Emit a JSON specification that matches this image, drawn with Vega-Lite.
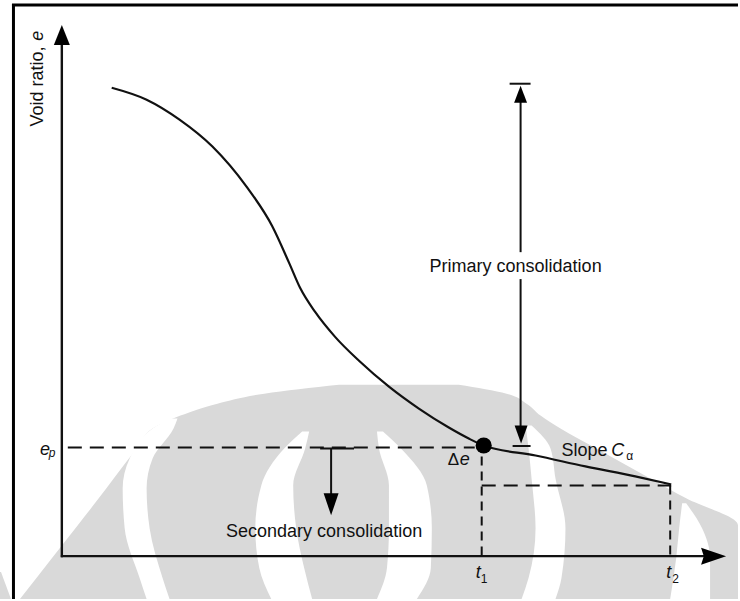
{
  "$schema": "https://vega.github.io/schema/vega-lite/v6.json",
  "width": 740,
  "height": 601,
  "autosize": {"type": "fit", "contains": "padding"},
  "padding": 0,
  "background": "white",
  "config": {"view": {"stroke": null}},
  "datasets": {
    "shadeGrey": [
      {"part": "main", "y": 386, "x": 340, "x2": 460},
      {"part": "main", "y": 395, "x": 265, "x2": 508},
      {"part": "main", "y": 405, "x": 218, "x2": 528},
      {"part": "main", "y": 417, "x": 181, "x2": 542},
      {"part": "main", "y": 430, "x": 153, "x2": 562},
      {"part": "main", "y": 450, "x": 137, "x2": 598},
      {"part": "main", "y": 480, "x": 114, "x2": 652},
      {"part": "main", "y": 500, "x": 99, "x2": 688},
      {"part": "main", "y": 527, "x": 78, "x2": 740},
      {"part": "main", "y": 560, "x": 52, "x2": 740},
      {"part": "main", "y": 601, "x": 20, "x2": 740},
      {"part": "edge", "y": 574, "x": 0, "x2": 1},
      {"part": "edge", "y": 601, "x": 0, "x2": 11}
    ],
    "shadeWhite": [
      {"part": "w1", "y": 420, "x": 170, "x2": 178},
      {"part": "w1", "y": 430, "x": 153, "x2": 174},
      {"part": "w1", "y": 460, "x": 130, "x2": 153},
      {"part": "w1", "y": 490, "x": 123, "x2": 147},
      {"part": "w1", "y": 530, "x": 125, "x2": 150},
      {"part": "w1", "y": 580, "x": 140, "x2": 163},
      {"part": "w1", "y": 601, "x": 147, "x2": 170},
      {"part": "w2", "y": 433, "x": 303, "x2": 310},
      {"part": "w2", "y": 450, "x": 285, "x2": 306},
      {"part": "w2", "y": 487, "x": 262, "x2": 294},
      {"part": "w2", "y": 530, "x": 256, "x2": 297},
      {"part": "w2", "y": 570, "x": 260, "x2": 305},
      {"part": "w2", "y": 601, "x": 272, "x2": 313},
      {"part": "w3", "y": 433, "x": 378, "x2": 384},
      {"part": "w3", "y": 450, "x": 380, "x2": 402},
      {"part": "w3", "y": 487, "x": 390, "x2": 428},
      {"part": "w3", "y": 530, "x": 390, "x2": 433},
      {"part": "w3", "y": 570, "x": 388, "x2": 432},
      {"part": "w3", "y": 601, "x": 378, "x2": 418},
      {"part": "w4", "y": 427, "x": 527, "x2": 533},
      {"part": "w4", "y": 450, "x": 530, "x2": 552},
      {"part": "w4", "y": 480, "x": 533, "x2": 557},
      {"part": "w4", "y": 530, "x": 537, "x2": 567},
      {"part": "w4", "y": 580, "x": 530, "x2": 563},
      {"part": "w4", "y": 601, "x": 523, "x2": 557},
      {"part": "w5", "y": 505, "x": 684, "x2": 688},
      {"part": "w5", "y": 530, "x": 681, "x2": 704},
      {"part": "w5", "y": 560, "x": 678, "x2": 712},
      {"part": "w5", "y": 601, "x": 672, "x2": 712}
    ],
    "frame": [
      {"x": 12, "x2": 740, "y": 5, "y2": 5},
      {"x": 13.5, "x2": 13.5, "y": 4, "y2": 601}
    ],
    "axes": [
      {"x": 62, "x2": 62, "y": 44, "y2": 559},
      {"x": 61, "x2": 706, "y": 558, "y2": 558}
    ],
    "arrowLines": [
      {"x": 511, "x2": 532, "y": 84, "y2": 84},
      {"x": 522, "x2": 522, "y": 100, "y2": 253},
      {"x": 522, "x2": 522, "y": 280, "y2": 430},
      {"x": 514, "x2": 532, "y": 447.5, "y2": 447.5},
      {"x": 321, "x2": 355, "y": 450, "y2": 450},
      {"x": 332, "x2": 332, "y": 450, "y2": 497}
    ],
    "dashH": [
      {"x": 68, "x2": 476, "y": 449, "y2": 449},
      {"x": 483, "x2": 673, "y": 487, "y2": 487}
    ],
    "dashV": [
      {"x": 483, "x2": 483, "y": 458, "y2": 558},
      {"x": 672, "x2": 672, "y": 487, "y2": 558}
    ],
    "curve": [
      {"x": 112, "y": 88}, {"x": 147, "y": 100}, {"x": 180, "y": 120},
      {"x": 213, "y": 147}, {"x": 247, "y": 187}, {"x": 273, "y": 227},
      {"x": 290, "y": 264}, {"x": 301, "y": 289}, {"x": 316, "y": 313},
      {"x": 336, "y": 338}, {"x": 360, "y": 362}, {"x": 390, "y": 388},
      {"x": 420, "y": 410}, {"x": 450, "y": 429}, {"x": 470, "y": 440},
      {"x": 485, "y": 447}, {"x": 537, "y": 457}, {"x": 587, "y": 468},
      {"x": 637, "y": 478}, {"x": 673, "y": 486}
    ],
    "endOfPrimary": [{"x": 485, "y": 447}],
    "arrowYAxis": [{"x": 62, "y": 35}],
    "arrowXAxis": [{"x": 715.5, "y": 558}],
    "arrowPrimaryUp": [{"x": 522, "y": 94.5}],
    "arrowPrimaryDown": [{"x": 522.5, "y": 436}],
    "arrowSecondary": [{"x": 332, "y": 506}],
    "labelsCentered": [
      {"x": 517, "y": 273, "label": "Primary consolidation"},
      {"x": 325, "y": 539, "label": "Secondary consolidation"}
    ],
    "labelsLeft": [
      {"x": 563, "y": 458, "label": "Slope"}
    ],
    "delta": [
      {"x": 449, "y": 467, "label": "Δ"}
    ],
    "symbols": [
      {"x": 613, "y": 458, "label": "C"},
      {"x": 477, "y": 580, "label": "t"},
      {"x": 668, "y": 580, "label": "t"},
      {"x": 40, "y": 457, "label": "e"},
      {"x": 461, "y": 467, "label": "e"}
    ],
    "subscripts": [
      {"x": 628, "y": 462, "label": "α"},
      {"x": 482, "y": 585, "label": "1"},
      {"x": 674, "y": 585, "label": "2"}
    ],
    "subscriptsItalic": [
      {"x": 49, "y": 459, "label": "p"}
    ],
    "yTitle": [
      {"x": 43, "y": 127, "label": "Void ratio,"}
    ],
    "yTitleSymbol": [
      {"x": 43, "y": 41, "label": "e"}
    ]
  },
  "encoding": {
    "x": {"field": "x", "type": "quantitative", "stack": null, "scale": {"domain": [0, 740], "nice": false, "zero": false}, "axis": null},
    "y": {"field": "y", "type": "quantitative", "scale": {"domain": [0, 601], "reverse": true, "nice": false, "zero": false}, "axis": null}
  },
  "layer": [
    {
      "data": {"name": "shadeGrey"},
      "mark": {"type": "area", "orient": "horizontal", "interpolate": "monotone", "color": "#d9d9d9", "opacity": 1},
      "encoding": {"x2": {"field": "x2"}, "detail": {"field": "part", "type": "nominal"}}
    },
    {
      "data": {"name": "shadeWhite"},
      "mark": {"type": "area", "orient": "horizontal", "interpolate": "monotone", "color": "#ffffff", "opacity": 1},
      "encoding": {"x2": {"field": "x2"}, "detail": {"field": "part", "type": "nominal"}}
    },
    {
      "data": {"name": "frame"},
      "mark": {"type": "rule", "color": "#000000", "strokeWidth": 3},
      "encoding": {"x2": {"field": "x2"}, "y2": {"field": "y2"}}
    },
    {
      "data": {"name": "axes"},
      "mark": {"type": "rule", "color": "#111111", "strokeWidth": 2.4},
      "encoding": {"x2": {"field": "x2"}, "y2": {"field": "y2"}}
    },
    {
      "data": {"name": "arrowLines"},
      "mark": {"type": "rule", "color": "#111111", "strokeWidth": 2},
      "encoding": {"x2": {"field": "x2"}, "y2": {"field": "y2"}}
    },
    {
      "data": {"name": "dashH"},
      "mark": {"type": "rule", "color": "#111111", "strokeWidth": 2, "strokeDash": [14, 8]},
      "encoding": {"x2": {"field": "x2"}, "y2": {"field": "y2"}}
    },
    {
      "data": {"name": "dashV"},
      "mark": {"type": "rule", "color": "#111111", "strokeWidth": 2, "strokeDash": [9, 6]},
      "encoding": {"x2": {"field": "x2"}, "y2": {"field": "y2"}}
    },
    {
      "data": {"name": "curve"},
      "mark": {"type": "line", "color": "#111111", "strokeWidth": 2.2, "interpolate": "monotone"},
      "encoding": {}
    },
    {
      "data": {"name": "endOfPrimary"},
      "mark": {"type": "point", "shape": "circle", "filled": true, "color": "#000000", "opacity": 1, "size": 260}
    },
    {
      "data": {"name": "arrowYAxis"},
      "mark": {"type": "point", "shape": "M0,-1L0.8,1L-0.8,1Z", "filled": true, "color": "#000000", "opacity": 1, "size": 400, "strokeWidth": 0}
    },
    {
      "data": {"name": "arrowXAxis"},
      "mark": {"type": "point", "shape": "M1,0L-1,-0.68L-0.78,0L-1,0.68Z", "filled": true, "color": "#000000", "opacity": 1, "size": 625, "strokeWidth": 0}
    },
    {
      "data": {"name": "arrowPrimaryUp"},
      "mark": {"type": "point", "shape": "M0,-1L0.76,1L-0.76,1Z", "filled": true, "color": "#000000", "opacity": 1, "size": 289, "strokeWidth": 0}
    },
    {
      "data": {"name": "arrowPrimaryDown"},
      "mark": {"type": "point", "shape": "M0,1L0.72,-1L-0.72,-1Z", "filled": true, "color": "#000000", "opacity": 1, "size": 324, "strokeWidth": 0}
    },
    {
      "data": {"name": "arrowSecondary"},
      "mark": {"type": "point", "shape": "M0,1L0.68,-1L-0.68,-1Z", "filled": true, "color": "#000000", "opacity": 1, "size": 484, "strokeWidth": 0}
    },
    {
      "data": {"name": "labelsCentered"},
      "mark": {"type": "text", "font": "Liberation Sans", "fontSize": 18, "color": "#111111", "align": "center", "baseline": "alphabetic"},
      "encoding": {"text": {"field": "label"}}
    },
    {
      "data": {"name": "labelsLeft"},
      "mark": {"type": "text", "font": "Liberation Sans", "fontSize": 18, "color": "#111111", "align": "left", "baseline": "alphabetic"},
      "encoding": {"text": {"field": "label"}}
    },
    {
      "data": {"name": "delta"},
      "mark": {"type": "text", "font": "Liberation Sans", "fontSize": 17, "color": "#111111", "align": "left", "baseline": "alphabetic"},
      "encoding": {"text": {"field": "label"}}
    },
    {
      "data": {"name": "symbols"},
      "mark": {"type": "text", "font": "Liberation Sans", "fontSize": 18, "fontStyle": "italic", "color": "#111111", "align": "left", "baseline": "alphabetic"},
      "encoding": {"text": {"field": "label"}}
    },
    {
      "data": {"name": "subscripts"},
      "mark": {"type": "text", "font": "Liberation Sans", "fontSize": 12, "color": "#111111", "align": "left", "baseline": "alphabetic"},
      "encoding": {"text": {"field": "label"}}
    },
    {
      "data": {"name": "subscriptsItalic"},
      "mark": {"type": "text", "font": "Liberation Sans", "fontSize": 12, "fontStyle": "italic", "color": "#111111", "align": "left", "baseline": "alphabetic"},
      "encoding": {"text": {"field": "label"}}
    },
    {
      "data": {"name": "yTitle"},
      "mark": {"type": "text", "font": "Liberation Sans", "fontSize": 18, "color": "#111111", "align": "left", "baseline": "alphabetic", "angle": 270},
      "encoding": {"text": {"field": "label"}}
    },
    {
      "data": {"name": "yTitleSymbol"},
      "mark": {"type": "text", "font": "Liberation Sans", "fontSize": 18, "fontStyle": "italic", "color": "#111111", "align": "left", "baseline": "alphabetic", "angle": 270},
      "encoding": {"text": {"field": "label"}}
    }
  ]
}
